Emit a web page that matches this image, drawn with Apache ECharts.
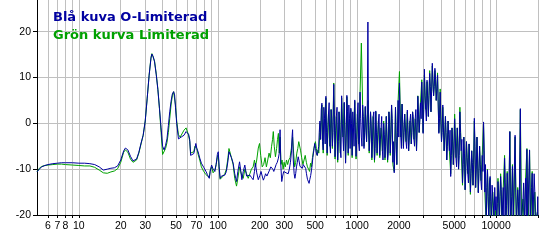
<!DOCTYPE html>
<html><head><meta charset="utf-8">
<script src="https://cdn.jsdelivr.net/npm/echarts@6/dist/echarts.min.js"></script>
<style>html,body{margin:0;padding:0;background:#fff}#c{width:539px;height:241px}</style>
</head><body><div id="c"></div>
<script>
const gridFreqs = [6,7,8,9,10,20,30,40,50,60,70,80,90,100,200,300,400,500,600,700,800,900,1000,2000,3000,4000,5000,6000,7000,8000,9000,10000,20000];
const labelFreqs = [6,7,8,10,20,30,50,70,100,200,300,500,1000,2000,5000,10000];
const yTicks = [-20,-10,0,10,20];
const legendTexts = ['Blå kuva O-Limiterad','Grön kurva Limiterad'];

const blueLowPts = [
[5,-10.6],[5.2,-10.0],[5.4,-9.5],[5.7,-9.2],[6,-9.0],[6.5,-8.8],[7,-8.7],[7.5,-8.6],[8,-8.6],[9,-8.6],[10,-8.7],[11,-8.7],[12,-8.8],[13,-9.0],[14,-9.5],[15,-10.2],[16,-10.0],[17,-9.8],[18,-9.7],[19,-9.3],[20,-8.0],[21,-6.0],[21.6,-5.4],[22.5,-5.8],[23.5,-7.2],[24.5,-8.2],[25.2,-8.4],[26,-7.8],[27,-6.3],[28,-4.3],[29,-2.6],[30,0.5],[31,5.5],[32,10.5],[33,14.2],[33.5,15.1],[34.2,14.6],[35,13.4],[36,10.6],[37,7.3],[38,3.2],[39,-1.0],[40,-5.0],[41,-5.8],[42,-4.8],[43,-3.4],[44,-0.5],[45,2.5],[46,4.8],[47,6.4],[48,6.9],[48.8,6.2],[49.5,3.5],[50.5,0],[52,-3.4],[53.5,-3.0],[55,-2.9],[57,-2.6],[59,-1.8],[60,-1.6],[61.5,-2.4],[62.7,-3.6],[63.6,-7.0],[65,-7.2],[67,-6.6],[68.3,-5.5],[69.3,-4.4],[70.5,-5.5],[72,-6.2],[74,-7.6],[76,-8.7],[79,-9.6],[82,-10.5],[84,-11.2],[86.6,-12.0],[88,-10.5],[90,-9.1],[92.3,-10.0],[95,-10.5],[97,-9.0],[99,-6.8],[100.5,-6.2],[102,-9.5],[103.7,-12.0],[106,-11.5],[109,-11.8],[112,-11.3],[115,-10.5],[118,-8.2],[120,-6.2],[122,-5.8],[125,-7.5],[128.6,-8.7],[132,-11.0],[136,-12.7],[139,-10.5],[143,-8.4],[146,-10.5],[148.6,-12.3],[152,-10.5],[156,-9.1],[160.6,-11.5],[165,-11.8],[169.6,-11.3],[174,-11.8],[179,-12.3],[183,-10.5],[186,-8.7],[190,-10.8],[195,-12.3],[200,-11.4],[204,-10.5],[208,-11.5],[212,-12.4],[216,-11.8],[220,-11.0],[225,-11.5],[230,-11.3],[235,-10.2],[240,-9.5],[243.5,-9.1],[248,-10.0],[252,-10.5],[257,-10.2],[262,-9.0],[267,-8.5],[272,-7.6],[276,-6.5],[279.6,-1.4],[283,-9.0],[287.5,-12.7],[292,-11.5],[297,-10.5],[303.5,-10.2],[309,-10.8],[315,-10.5],[320,-11.0],[326,-10.0],[332,-8.5],[338,-6.0],[341,-3.0],[344,-1.4],[348,-8.0],[353,-11.0],[357.5,-12.0],[362,-11.0],[367,-9.5],[372,-8.5],[377.5,-7.3],[383,-8.2],[389,-9.4],[394,-9.0],[399,-9.4],[405,-9.8],[410,-9.0],[415,-8.7],[421,-8.7],[427,-9.8],[433,-11.0],[440,-12.2],[446,-12.6],[452,-13.1],[458,-12.2],[464,-11.4],[470.5,-10.2],[476,-9.0],[481,-7.5],[486,-6.5],[491,-5.5],[497,-4.4],[503,-5.5],[510,-6.5],[517,-7.0],[521,-6.5],[525,-6.9],[530,-5.0],[535,-2.0],[541,0.5]
];

const greenLowPts = [
[5,-10.6],[5.2,-9.8],[5.4,-9.4],[5.7,-9.2],[6,-9.1],[6.5,-9.0],[7,-8.9],[7.5,-8.9],[8,-9.0],[9,-9.1],[10,-9.2],[11,-9.3],[12,-9.3],[13,-9.6],[14,-10.2],[15,-10.8],[16,-10.9],[17,-10.6],[18,-10.4],[19,-9.9],[20,-8.5],[21,-6.3],[21.6,-5.8],[22.5,-6.3],[23.5,-7.8],[24.5,-8.5],[25.2,-8.6],[26,-8.0],[27,-6.5],[28,-4.5],[29,-2.6],[30,0.5],[31,5.5],[32,10.5],[33,14.4],[33.5,15.2],[34.2,14.8],[35,13.6],[36,10.8],[37,7.4],[38,3.0],[39,-2.0],[40,-6.8],[41,-6.5],[42,-5.5],[43,-4.2],[44,-2.0],[45,1.0],[46,4.0],[47,6.0],[48,6.9],[48.8,6.5],[49.5,4.0],[50.5,0.5],[52,-2.5],[53.5,-3.0],[55,-2.8],[57,-1.5],[59,-1.0],[60,-1.4],[61.5,-2.6],[62.7,-4.0],[63.6,-6.5],[65,-6.8],[67,-6.2],[68.3,-5.0],[69.3,-4.8],[70.5,-5.5],[72,-6.8],[74,-8.0],[76,-9.5],[79,-10.5],[82,-11.2],[84,-11.5],[86.6,-11.8],[88,-10.2],[90,-9.5],[92.3,-10.8],[95,-10.2],[97,-9.0],[99,-7.5],[100.5,-6.8],[102,-10.0],[103.7,-12.2],[106,-12.0],[109,-11.5],[112,-11.0],[115,-10.0],[118,-7.5],[120,-5.5],[122,-5.2],[125,-7.5],[128.6,-9.0],[132,-12.0],[136,-13.7],[139,-12.0],[143,-9.5],[146,-9.8],[148.6,-11.5],[152,-12.0],[156,-10.0],[160.6,-11.0],[165,-12.0],[169.6,-11.0],[174,-10.0],[179,-9.5],[183,-8.0],[186,-9.5],[190,-8.0],[195,-5.4],[199,-4.4],[203,-7.0],[208,-9.5],[213,-9.0],[218,-7.5],[223,-9.5],[228,-8.0],[233,-6.5],[238,-7.5],[243,-5.0],[247,-3.5],[250,-1.8],[254,-5.0],[259,-7.3],[264,-5.5],[268,-3.5],[272,-2.2],[276,-6.5],[280,-3.0],[284,-9.0],[289,-8.0],[294,-10.0],[299,-8.5],[305,-9.5],[311,-8.0],[317,-9.0],[323,-8.0],[330,-7.5],[337,-5.5],[344,-3.0],[350,-6.5],[356,-9.5],[362,-8.5],[369,-6.5],[375,-5.5],[381,-4.0],[387,-3.6],[393,-6.0],[400,-7.5],[408,-9.0],[416,-8.0],[424,-7.0],[432,-8.5],[440,-9.5],[448,-10.0],[456,-10.5],[463,-8.7],[470,-9.5],[478,-7.5],[486,-6.0],[494,-4.8],[502,-4.0],[510,-5.5],[518,-7.0],[524,-5.8],[531,-6.5],[538,-3.0],[543,0.0]
];

const denseFreqs = [547,559,571,584,597,610,623,637,651,665,680,695,710,726,742,758,775,792,809,827,845,864,883,902,922,942,963,984,1006,1028,1051,1074,1097,1122,1146,1171,1197,1223,1250,1278,1306,1335,1364,1394,1425,1456,1488,1521,1554,1588,1623,1659,1695,1733,1771,1810,1850,1890,1932,1974,2018,2062,2107,2154,2201,2249,2299,2350,2401,2454,2508,2563,2620,2677,2736,2796,2858,2921,2985,3050,3117,3186,3256,3328,3401,3476,3552,3630,3710,3792,3875,3960,4047,4136,4227,4320,4415,4512,4612,4713,4817,4923,5031,5142,5255,5370,5488,5609,5732,5858,5987,6119,6253,6391,6531,6675,6822,6972,7125,7282,7442,7606,7773,7944,8119,8297,8480,8666,8857,9052,9251,9455,9663,9875,10092,10314,10541,10773,11010,11252,11500,11753,12012,12276,12546,12822,13104,13392,13687,13988,14296,14610,14932,15260,15596,15939,16290,16648,17014,17389,17771,18162,18562,18970,19388,19814,20000];

const blueDense = [-3.5,4.4,-5.8,1.0,5.9,-6.5,2.0,-4.5,3.0,
-5.0,8.5,-7.3,1.5,-8.0,2.5,
-6.0,6.0,-3.0,4.6,-8.7,
6.1,-6.5,1.0,3.3,-7.0,-1.0,
5.1,-7.2,2.0,-4.5,6.8,
-3.0,4.0,-5.5,3.7,-4.0,22.1,
-6.0,2.5,-7.5,1.5,-8.0,2.7,-6.5,0.5,-7.0,-1.0,-6.0,0.0,-7.5,
1.5,-8.0,2.5,-6.5,4.0,-8.5,-10.8,
3.5,-9.0,5.0,8.8,-3.0,4.2,
-5.5,2.0,-4.0,2.9,-6.0,0.5,-4.5,2.5,-3.5,1.0,-6.0,5.9,
-2.0,4.5,9.0,-2.2,11.8,3.0,9.4,1.5,10.9,2.5,
13.1,6.0,12.0,5.0,10.5,
-2.2,6.8,
-4.0,4.0,-6.0,1.5,
-8.0,0.5,-6.0,-11.6,
-1.0,-9.0,1.0,-7.5,
-1.0,-10.0,2.5,-6.0,
-13.0,-3.0,-14.5,-4.0,-11.0,
-4.5,-15.0,-6.0,-13.5,1.1,
-14.0,-3.0,-15.2,-5.0,-12.5,-7.0,0.3,-15.0,
-22,-10.2,-22,-11.6,-22,
-16.0,-22,-19,-22,-12.7,-22,-11.6,-22,-14,-7.6,-22,-10.9,-22,-1.8,-22,-9.4,-22,-2.6,-22,-14.5,-22,3.2,-22,-16.7,-22,-12,-5.7,-22,-5.8,-22,-10.9,-22,-15,-22,-19.3,-22];

const blueMidFreqs = [553,565,577,590,603,616,630,644,658,672,687,702,718,734,750,766,783,800,818,836,854,873,892,912,932,952,973,995,1017,1039,1062,1085,1109,1134,1158,1184,1210,1236,1264,1292,1320,1349,1379,1409,1440,1472,1504,1537,1571,1605,1641,1677,1714,1752,1790,1830,1870,1911,1953,1996,2040,2084,2130,2177,2225,2274,2324,2375,2427,2481,2535,2591,2648,2706,2766,2827,2889,2953,3017,3083,3151,3221,3292,3364,3438,3514,3591,3670,3751,3833,3917,4003,4091,4181,4273,4367,4463,4562,4662,4765,4870,4977,5086,5198,5312,5429,5548,5670,5795,5922,6053,6186,6322,6461,6603,6748,6897,7048,7203,7362,7524,7689,7858,8031,8208,8388,8573,8761,8954,9151,9353,9559,9769,9983,10203,10427,10657,10891,11131,11376,11626,11882,12144,12411,12684,12963,13248,13539,13837,14142,14453,14771,15096,15427,15767,16114,16469,16831,17201,17580,17966,18361,18765,19178,19600,19907];

const blueMid = [3.0,-4.0,3.5,-4.5,-2.0,-1.0,4.5,-6.5,1.0,-2.0,
2.0,-1.5,3.5,-4.0,0.5,-7.5,0.0,-6.0,-1.5,-3.0,
2.5,4.0,-5.5,0.0,2.5,-5.0,-2.0,-3.5,4.5,-6.0,
1.0,-5.0,1.5,-2.0,-1.0,2.0,-1.5,-3.0,0.0,-4.0,
2.5,-5.5,-2.0,-2.5,2.0,-3.5,1.5,-8.0,-2.5,-5.0,
-3.0,-6.5,0.5,-2.5,1.0,-4.0,-6.0,-4.0,-2.0,-3.0,
2.0,-5.5,0.5,-2.0,-1.0,-5.5,-1.5,-3.0,2.0,-2.0,
1.5,-5.0,3.0,-1.0,2.0,0.5,1.0,4.0,3.0,6.0,
0.5,5.5,6.0,8.0,7.0,9.0,8.0,9.5,7.5,4.0,
1.0,0.5,-2.0,-1.0,-3.0,-2.0,-5.0,-2.5,-1.5,-7.0,
-4.0,-6.0,-3.0,-9.5,-4.5,-7.0,-2.0,-3.5,-9.0,-6.5,
-10.0,-7.5,-13.0,-8.0,-11.0,-8.5,-9.0,-5.0,-10.0,-8.0,
-11.0,-9.0,-14.5,-10.5,-6.0,-9.0,-14.0,-16.0,-13.0,-17.0,
-13.5,-18.0,-14.0,-16.0,-17.5,-15.0,-16.0,-14.5,-22,-22,
-13.0,-18.0,-14.5,-22,-22,-16.0,-22,-22,-15,-22,
-17,-22,-22,-22,-13,-22,-22,-22,-22,-22,
-14,-22,-11,-22,-22,-16];

const greenDense = [-3.5,4.0,-6.5,1.0,5.5,-7.0,2.0,-5.0,3.0,
-5.5,8.8,-7.8,1.5,-8.5,2.5,
-6.5,5.5,-3.0,4.4,-8.5,
5.8,-7.0,1.0,3.0,-7.5,-1.0,
4.8,-7.8,2.0,-4.5,6.5,
17.5,4.0,-5.0,3.5,-4.0,5.0,
-6.5,2.5,-8.0,1.5,-8.5,2.5,-7.0,0.5,-7.5,-1.0,-6.0,0.5,-8.0,
1.5,-8.5,2.5,-7.0,4.0,-9.0,-10.5,
3.5,-9.0,5.0,11.3,-3.0,4.2,
-5.0,2.0,-4.0,2.5,-6.0,0.5,-4.5,2.5,-3.5,1.0,-6.0,6.0,
-2.0,4.5,9.5,-2.0,10.5,3.0,9.0,1.5,11.5,2.5,
12.5,6.0,11.5,5.0,11.0,
-2.0,7.5,
-4.0,3.5,-6.0,1.5,
-8.0,0.5,-6.0,-11.0,
-1.0,-9.0,2.0,-7.5,
-1.0,-10.0,3.5,-6.0,
-13.5,-3.0,-14.5,-4.0,-11.0,
-4.5,-15.5,-6.0,-13.5,0.5,
-14.0,-3.0,-15.0,-5.0,-12.5,-7.0,0.0,-15.0,
-22,-10.0,-22,-12.0,-22,
-15.0,-22,-19,-22,-12.0,-22,-11.0,-22,-14,-7.0,-22,-10.5,-22,-1.8,-22,-9.0,-22,-3.0,-22,-14,-22,3.0,-22,-16.5,-22,-12,-5.5,-22,-6.0,-22,-10.5,-22,-15,-22,-19.3,-22];

const byFreq = (a, b) => a[0] - b[0];
const blueData = blueLowPts
  .concat(denseFreqs.map((f, i) => [f, blueDense[i]]))
  .concat(blueMidFreqs.map((f, i) => [f, blueMid[i]]))
  .sort(byFreq);
const greenData = greenLowPts.concat(denseFreqs.map((f, i) => [f, greenDense[i]]));

const chart = echarts.init(document.getElementById('c'), null, {renderer: 'canvas'});
const tickFont = 'Liberation Sans';
chart.setOption({
  animation: false,
  backgroundColor: '#ffffff',
  grid: {left: 37, right: 1, top: 0, bottom: 26, containLabel: false, outerBoundsMode: 'none'},
  xAxis: {
    type: 'log', logBase: 10, min: 5, max: 20000,
    axisLine: {show: true, onZero: false, lineStyle: {color: '#000', width: 1}},
    axisTick: {show: true, length: 3, customValues: gridFreqs, lineStyle: {color: '#000'}},
    axisLabel: {show: true, customValues: labelFreqs, color: '#000', fontSize: 10.5, fontFamily: tickFont, margin: 6,
      formatter: v => String(Math.round(v))},
    splitLine: {show: true, lineStyle: {color: '#c0c0c0', width: 1}}
  },
  yAxis: {
    type: 'value', min: -20, max: 26.9, interval: 10,
    axisLine: {show: true, lineStyle: {color: '#000', width: 1}},
    axisTick: {show: true, length: 4, customValues: yTicks, lineStyle: {color: '#000'}},
    axisLabel: {show: true, customValues: yTicks, color: '#000', fontSize: 10.5, fontFamily: tickFont, margin: 6},
    splitLine: {show: true, lineStyle: {color: '#c0c0c0', width: 1}}
  },
  graphic: [
    {type: 'text', x: 53, y: 17.2, style: {text: legendTexts[0], font: 'bold 13px "DejaVu Sans"', fill: '#0000a0', verticalAlign: 'middle'}, z: 100},
    {type: 'text', x: 53, y: 36, style: {text: legendTexts[1], font: 'bold 13px "DejaVu Sans"', fill: '#00a000', verticalAlign: 'middle'}, z: 100}
  ],
  series: [
    {name: legendTexts[1], type: 'line', data: greenData, showSymbol: false, symbol: 'none', clip: true,
     lineStyle: {color: '#00a000', width: 1}, itemStyle: {color: '#00a000'}},
    {name: legendTexts[0], type: 'line', data: blueData, showSymbol: false, symbol: 'none', clip: true,
     lineStyle: {color: '#0000a0', width: 1}, itemStyle: {color: '#0000a0'}}
  ]
});
</script>
</body></html>
